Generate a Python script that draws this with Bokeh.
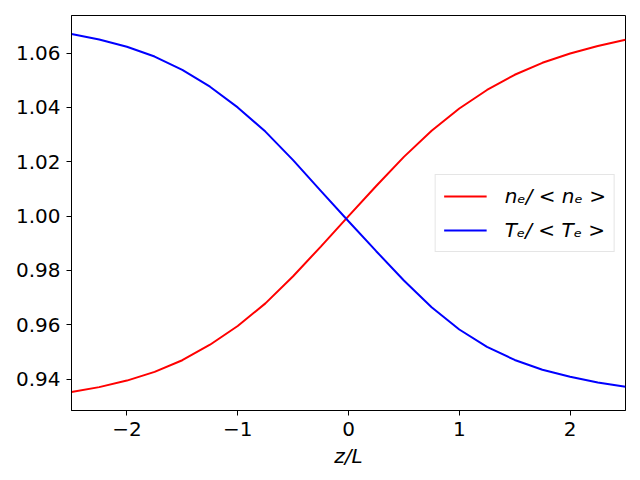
from bokeh.plotting import figure
from bokeh.models import FixedTicker, NumeralTickFormatter, Range1d, Legend, LegendItem
from bokeh.embed import file_html
from bokeh.resources import INLINE

z = [-2.5, -2.25, -2.0, -1.75, -1.5, -1.25, -1.0, -0.75, -0.5, -0.25, 0.0,
     0.25, 0.5, 0.75, 1.0, 1.25, 1.5, 1.75, 2.0, 2.25, 2.5]
ne = [0.9353, 0.9371, 0.9395, 0.9427, 0.9470, 0.9527, 0.9596, 0.9679, 0.9779, 0.9888, 1.0000,
      1.0111, 1.0218, 1.0314, 1.0396, 1.0464, 1.0520, 1.0564, 1.0598, 1.0626, 1.0649]
te = [1.0670, 1.0650, 1.0623, 1.0587, 1.0538, 1.0476, 1.0400, 1.0311, 1.0206, 1.0093, 0.9981,
      0.9871, 0.9763, 0.9665, 0.9583, 0.9519, 0.9471, 0.9435, 0.9409, 0.9388, 0.9372]
x_ticks = [-2, -1, 0, 1, 2]
y_ticks = [0.94, 0.96, 0.98, 1.00, 1.02, 1.04, 1.06]

p = figure(width=640, height=480, output_backend="svg", toolbar_location=None,
           x_range=Range1d(-2.5, 2.5), y_range=Range1d(0.9285, 1.0738),
           min_border_left=71, min_border_right=15, min_border_top=15, min_border_bottom=70)
p.background_fill_color = "white"
p.border_fill_color = "white"
p.outline_line_color = "black"
p.outline_line_width = 1
p.xgrid.visible = False
p.ygrid.visible = False

r1 = p.line(z, ne, line_color="red", line_width=2)
r2 = p.line(z, te, line_color="blue", line_width=2)

for ax in (p.xaxis, p.yaxis):
    ax.major_label_text_font = "DejaVu Sans"
    ax.major_label_text_font_size = "20px"
    ax.major_label_text_color = "black"
    ax.minor_tick_line_color = None
    ax.major_tick_out = 5
    ax.major_tick_in = 0
    ax.major_tick_line_color = "black"
    ax.axis_line_color = "black"
    ax.major_label_standoff = 6

p.xaxis.ticker = FixedTicker(ticks=x_ticks)
p.yaxis.ticker = FixedTicker(ticks=y_ticks)
p.yaxis.formatter = NumeralTickFormatter(format="0.00")
p.xaxis.major_label_overrides = {-2: "\u22122", -1: "\u22121", 0: "0", 1: "1", 2: "2"}
p.xaxis.axis_label = "z/L"
p.xaxis.axis_label_text_font = "DejaVu Sans"
p.xaxis.axis_label_text_font_size = "20px"
p.xaxis.axis_label_text_font_style = "italic"
p.xaxis.axis_label_text_color = "black"
p.xaxis.axis_label_standoff = 5

legend = Legend(items=[LegendItem(label="n\u2091/ < n\u2091 >", renderers=[r1]),
                       LegendItem(label="T\u2091/ < T\u2091 >", renderers=[r2])],
                location="center_right")
legend.label_text_font = "DejaVu Sans"
legend.label_text_font_size = "20px"
legend.label_text_font_style = "italic"
legend.label_text_color = "black"
legend.border_line_color = "#cccccc"
legend.border_line_width = 1
legend.background_fill_alpha = 0.8
legend.glyph_width = 43
legend.glyph_height = 26
legend.label_height = 26
legend.label_standoff = 18
legend.spacing = 8
legend.padding = 8
legend.margin = 10
p.add_layout(legend)

open("out.html", "w").write(file_html(p, INLINE))
